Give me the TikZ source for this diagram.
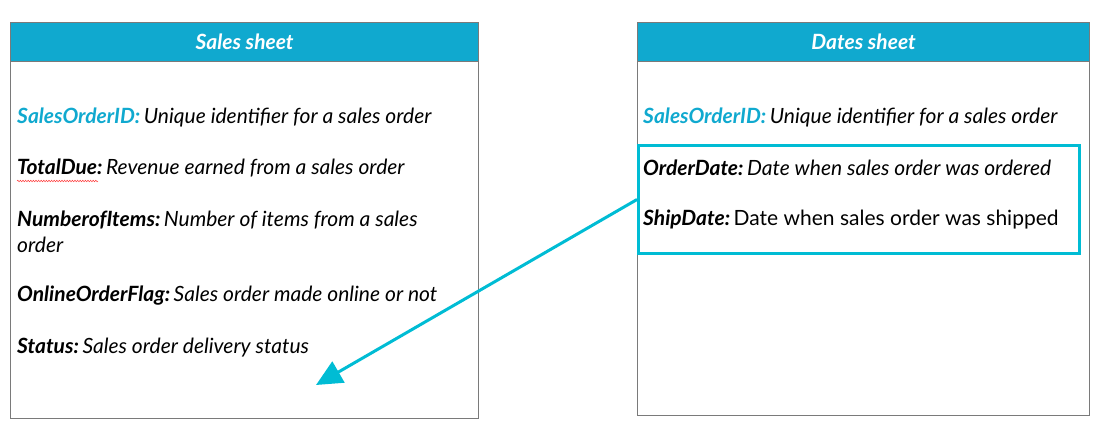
\documentclass[tikz,border=0pt]{standalone}
\usepackage{fontspec}
\setmainfont{Lato}
\usetikzlibrary{arrows.meta,decorations.pathmorphing}
\definecolor{hdr}{HTML}{10A9CF}
\definecolor{acc}{HTML}{00BCD4}
\definecolor{frame}{HTML}{7A7A7A}
\begin{document}
\begin{tikzpicture}[x=1pt,y=-1pt,
  sheet/.style={draw=frame, line width=1.2pt, anchor=north west, inner sep=0pt},
  hdrbox/.style={draw=frame, fill=hdr, line width=1.2pt, anchor=north west, inner sep=0pt,
    minimum height=39pt, text=white, font=\fontsize{21}{25}\selectfont\bfseries\itshape},
  fieldtxt/.style={anchor=west, inner sep=0pt, align=left, font=\fontsize{21}{26}\selectfont\itshape},
  hlbox/.style={draw=acc, line width=3pt, anchor=north west, inner sep=0pt},
  link/.style={draw=acc, line width=3pt, -{Triangle[length=26pt,width=24pt]}}]
\useasboundingbox (0,0) rectangle (1106,431);
% Sales sheet
\node[sheet, minimum width=468pt, minimum height=396pt] (salesbox) at (10,22) {};
\node[hdrbox, minimum width=468pt] (saleshdr) at (10,22) {Sales sheet};
\node[fieldtxt] (s1) at (17,117) {{\bfseries\color{hdr}SalesOrderID:}\,Unique identifier for a sales order};
\node[fieldtxt] (s2) at (17,168) {{\bfseries TotalDue:}\,Revenue earned from a sales order};
\node[fieldtxt] (s3) at (17,232) {{\bfseries NumberofItems:}\,Number of items from a sales\\order};
\node[fieldtxt] (s4) at (17,296) {{\bfseries OnlineOrderFlag:}\,Sales order made online or not};
\node[fieldtxt] (s5) at (17,348) {{\bfseries Status:}\,Sales order delivery status};
\draw[red!75, line width=0.5pt, decorate, decoration={snake, amplitude=0.8pt, segment length=2.6pt}] (17,181) -- (98,181);
% Dates sheet
\node[sheet, minimum width=452pt, minimum height=393pt] (datesbox) at (637,22) {};
\node[hdrbox, minimum width=452pt] (dateshdr) at (637,22) {Dates sheet};
\node[fieldtxt] (d1) at (643,117) {{\bfseries\color{hdr}SalesOrderID:}\,Unique identifier for a sales order};
\node[fieldtxt] (d2) at (643,168) {{\bfseries OrderDate:}\,Date when sales order was ordered};
\node[fieldtxt] (d3) at (643,219) {{\bfseries ShipDate:}\upshape\,Date when sales order was shipped};
\node[hlbox, minimum width=441pt, minimum height=108pt] (hl) at (637,144) {};
\coordinate (tip) at (316,385);
\draw[link] (hl.west) -- (tip);
\end{tikzpicture}
\end{document}
